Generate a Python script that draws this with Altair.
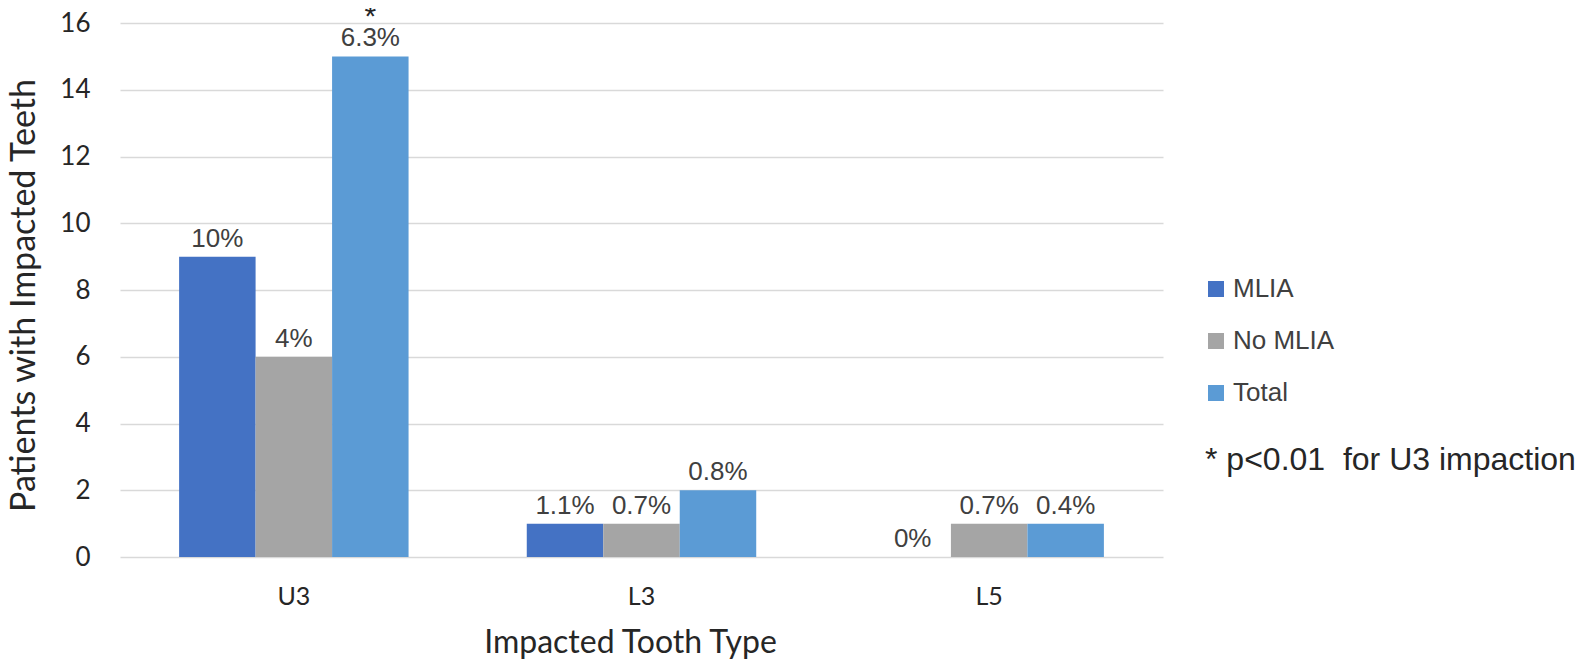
import altair as alt
import pandas as pd

categories = ["U3", "L3", "L5"]
series = ["MLIA", "No MLIA", "Total"]
mlia = [9, 1, 0]
no_mlia = [6, 1, 1]
total = [15, 2, 1]
mlia_pct = ["10%", "1.1%", "0%"]
no_mlia_pct = ["4%", "0.7%", "0.7%"]
total_pct = ["6.3%", "0.8%", "0.4%"]
colors = ["#4472C4", "#A5A5A5", "#5B9BD5"]
y_ticks = [0, 2, 4, 6, 8, 10, 12, 14, 16]

star_category = ["U3"]
star_series = ["Total"]
star_value = [15]
footnote = "* p<0.01\u00a0 for U3 impaction"

rows = []
for s, vals, labs in zip(series, [mlia, no_mlia, total], [mlia_pct, no_mlia_pct, total_pct]):
    for c, v, l in zip(categories, vals, labs):
        rows.append({"cat": c, "series": s, "value": v, "label": l})
df = pd.DataFrame(rows)
star_df = pd.DataFrame({"cat": star_category, "series": star_series, "value": star_value, "label": ["*"]})

W, H = 1043, 534
FONT = "Lato"
SANS = "Liberation Sans"

x = alt.X("cat:N", sort=categories, scale=alt.Scale(paddingInner=0.34, paddingOuter=0.17),
          axis=alt.Axis(title="Impacted Tooth Type", labelAngle=0, labelFont=FONT, labelFontSize=25,
                        labelColor="#262626", labelPadding=27, ticks=False, domain=False,
                        titleFont=FONT, titleFontSize=32, titleFontWeight="normal", titleColor="#262626",
                        titleBaseline="alphabetic", titleX=510, titleY=95))
xo = alt.XOffset("series:N", sort=series, scale=alt.Scale(paddingInner=0, paddingOuter=0))
y = alt.Y("value:Q", scale=alt.Scale(domain=[0, 16], nice=False),
          axis=alt.Axis(title="Patients with Impacted Teeth", values=y_ticks, labelFont=FONT, labelFontSize=26,
                        labelColor="#262626", labelPadding=30, ticks=False, domain=False,
                        gridColor="#D9D9D9", gridWidth=1.5,
                        titleFont=FONT, titleFontSize=34, titleFontWeight="normal", titleColor="#262626",
                        titleBaseline="alphabetic", titleX=-86, titleY=272))

bars = alt.Chart(df).mark_bar().encode(
    x=x, xOffset=xo, y=y,
    color=alt.Color("series:N", sort=series, scale=alt.Scale(domain=series, range=colors),
                    legend=alt.Legend(title=None, orient="none", legendX=1083, legendY=253,
                                      symbolType="square", symbolSize=256, symbolStrokeWidth=0,
                                      labelFont=SANS, labelFontSize=26, labelColor="#404040",
                                      labelOffset=4, rowPadding=26, padding=0)),
)

labels = alt.Chart(df).mark_text(font=SANS, fontSize=26, color="#404040", baseline="alphabetic", dy=-10).encode(
    x=alt.X("cat:N", sort=categories), xOffset=alt.XOffset("series:N", sort=series), y="value:Q", text="label:N"
)

star = alt.Chart(star_df).mark_text(font=SANS, fontSize=30, color="#262626", baseline="alphabetic", dy=-30).encode(
    x=alt.X("cat:N", sort=categories), xOffset=alt.XOffset("series:N", sort=series), y="value:Q", text="label:N"
)

foot = alt.Chart(pd.DataFrame({"t": [footnote]})).mark_text(
    font=SANS, fontSize=32, color="#262626", align="left", baseline="middle"
).encode(x=alt.value(1085), y=alt.value(437), text="t:N")

chart = alt.layer(bars, labels, star, foot).properties(
    width=W, height=H,
    autosize=alt.AutoSizeParams(type="none"),
    padding={"left": 112, "top": 15, "right": 423, "bottom": 102},
).configure_view(stroke=None)

chart.save("out.html", embed_options={"renderer": "svg", "actions": False})
